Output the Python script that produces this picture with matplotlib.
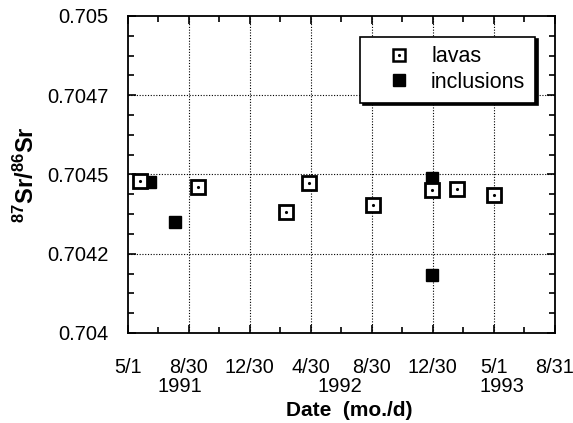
"""
87Sr/86Sr vs. date — lavas and inclusions, 1991-1993
"""
import matplotlib
matplotlib.use("Agg")
import matplotlib.pyplot as plt
from matplotlib.lines import Line2D
from matplotlib.ticker import FixedLocator, MultipleLocator
import pandas as pd
import numpy as np

plt.rcParams["font.family"] = ["Liberation Sans", "DejaVu Sans"]
plt.rcParams["mathtext.fontset"] = "custom"
plt.rcParams["mathtext.rm"] = "Liberation Sans"
plt.rcParams["mathtext.bf"] = "Liberation Sans:bold"

START = pd.Timestamp("1991-05-01")

# 데이터
lava_dates = ["1991-05-25", "1991-09-17", "1992-03-12", "1992-04-27",
              "1992-09-01", "1992-12-29", "1993-02-16", "1993-05-02"]
lava_ratio = [0.704480, 0.704462, 0.704381, 0.704472,
              0.704403, 0.704450, 0.704454, 0.704434]

incl_dates = ["1991-06-14", "1991-08-02", "1992-12-29", "1992-12-28"]
incl_ratio = [0.704475, 0.704351, 0.704488, 0.704184]

tick_dates = ["1991-05-01", "1991-08-30", "1991-12-30", "1992-04-30",
              "1992-08-30", "1992-12-30", "1993-05-01", "1993-08-31"]
tick_labels = ["5/1", "8/30", "12/30", "4/30", "8/30", "12/30", "5/1", "8/31"]

year_dates = ["1991-08-13", "1992-06-27", "1993-05-17"]
year_labels = ["1991", "1992", "1993"]

y_ticks = [0.704, 0.70425, 0.7045, 0.70475, 0.705]
y_labels = ["0.704", "0.7042", "0.7045", "0.7047", "0.705"]


def to_days(dates):
    return np.array([(pd.Timestamp(d) - START).days for d in dates], dtype=float)


def main():
    fig = plt.figure(figsize=(5.73, 4.23), dpi=100, facecolor="white")
    ax = fig.add_axes([0.2234, 0.2128, 0.7452, 0.7494])

    lx, ix = to_days(lava_dates), to_days(incl_dates)
    tx = to_days(tick_dates)

    ax.plot(ix, incl_ratio, "s", ms=8.5, mfc="black", mec="black",
            linestyle="none", zorder=3)
    ax.plot(lx, lava_ratio, "s", ms=10.5, mfc="white", mec="black", mew=2.0,
            linestyle="none", zorder=4)
    ax.plot(lx, lava_ratio, ".", ms=2.5, color="black", linestyle="none", zorder=5)

    ax.set_xlim(tx[0], tx[-1])
    ax.set_ylim(0.704, 0.705)

    ax.xaxis.set_major_locator(FixedLocator(tx))
    ax.set_xticklabels(tick_labels, fontsize=14.3)
    mids = (tx[:-1] + tx[1:]) / 2
    ax.xaxis.set_minor_locator(FixedLocator(mids))

    ax.set_yticks(y_ticks)
    ax.set_yticklabels(y_labels, fontsize=14.5)
    ax.yaxis.set_minor_locator(MultipleLocator(0.0000625))

    ax.tick_params(which="both", direction="in", top=True, right=True, width=1.2)
    ax.tick_params(which="major", length=6)
    ax.tick_params(which="minor", length=4)
    ax.tick_params(axis="y", which="major", pad=14)
    ax.tick_params(axis="x", which="major", pad=18)

    for v in tx[1:-1]:
        ax.axvline(v, color="black", linestyle=(0, (1, 1.5)), linewidth=0.8, zorder=1)
    for v in y_ticks[1:-1]:
        ax.axhline(v, color="black", linestyle=(0, (1, 1.5)), linewidth=0.8, zorder=1)

    for sp in ax.spines.values():
        sp.set_linewidth(1.3)

    for d, lab in zip(to_days(year_dates), year_labels):
        ax.text(d, -0.168, lab, transform=ax.get_xaxis_transform(),
                ha="center", va="center", fontsize=14.5)

    ax.set_xlabel("Date  (mo./d)", fontsize=15, fontweight="bold")
    ax.xaxis.set_label_coords(0.518, -0.215)
    ax.set_ylabel(r"$\mathbf{^{87}Sr/^{86}Sr}$", fontsize=17, labelpad=6)

    h_lava = (Line2D([], [], marker="s", ms=9, mfc="white", mec="black", mew=1.8,
                     linestyle="none"),
              Line2D([], [], marker=".", ms=2.5, color="black", linestyle="none"))
    h_incl = Line2D([], [], marker="s", ms=8, mfc="black", mec="black",
                    linestyle="none")
    leg = ax.legend([h_lava, h_incl], ["lavas", "inclusions"], loc="upper right",
                    bbox_to_anchor=(0.953, 0.935), fontsize=15.5, frameon=True,
                    fancybox=False, shadow={"color": "black", "alpha": 1.0},
                    edgecolor="black", handletextpad=0.15, borderpad=0.45,
                    labelspacing=0.22, handlelength=2.7, borderaxespad=0)
    leg.get_frame().set_linewidth(1.2)

    fig.savefig("out.png", dpi=100, facecolor="white")
    plt.close(fig)


if __name__ == "__main__":
    main()
